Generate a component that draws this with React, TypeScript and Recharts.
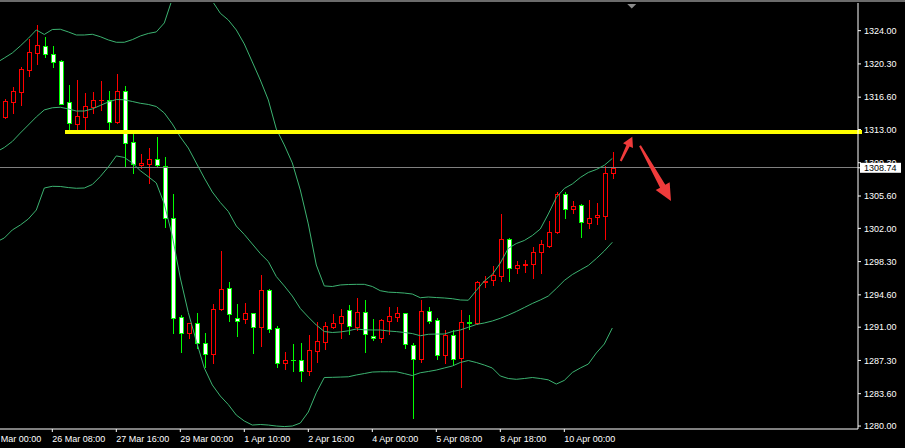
import React from 'react';
import { ComposedChart, Bar, Line, XAxis, YAxis, ReferenceLine, ReferenceDot } from 'recharts';

// H4 candles, oldest first
const opens = [
  1314.4, 1316.1, 1317.2, 1319.66, 1321.55, 1322.26, 1321.37, 1320.63, 1316.03, 1313.65,
  1314.43, 1315.47, 1316.25, 1316.29, 1313.84, 1317.29, 1311.58, 1309.05, 1309.2, 1309.69,
  1308.98, 1303.12, 1292.1, 1290.32, 1291.43, 1289.2, 1287.98, 1292.99, 1295.33, 1291.99,
  1291.88, 1292.54, 1291.05, 1295.14, 1290.88, 1287.05, 1287.4, 1287.35, 1286.16, 1288.35,
  1289.38, 1291.05, 1291.43, 1292.91, 1291.05, 1292.65, 1290.05, 1289.83, 1291.72, 1292.17,
  1292.54, 1288.98, 1287.42, 1292.77, 1291.76, 1287.91, 1290.09, 1287.53, 1291.6, 1291.43,
  1296.0, 1296.25, 1296.73, 1300.78, 1297.55, 1297.95, 1298.0, 1299.33, 1300.07, 1301.56,
  1305.79, 1304.15, 1304.57, 1302.57, 1303.23, 1303.41, 1308.13,
];
const highs = [
  1316.4, 1317.7, 1319.96, 1323.08, 1324.64, 1323.3, 1322.26, 1320.74, 1317.96, 1318.51,
  1317.03, 1317.14, 1318.44, 1317.29, 1319.18, 1317.85, 1312.47, 1310.28, 1310.95, 1312.17,
  1309.97, 1305.82, 1292.35, 1291.5, 1292.54, 1290.32, 1293.58, 1299.48, 1296.06, 1293.58,
  1293.72, 1292.6, 1296.81, 1295.2, 1291.13, 1288.27, 1289.13, 1289.27, 1290.13, 1291.54,
  1291.61, 1292.47, 1293.02, 1293.47, 1294.28, 1294.03, 1291.91, 1291.91, 1293.25, 1293.25,
  1292.6, 1289.27, 1294.03, 1293.28, 1291.99, 1290.65, 1290.65, 1292.91, 1292.35, 1296.17,
  1296.7, 1297.81, 1303.6, 1300.9, 1298.37, 1298.48, 1299.92, 1300.7, 1302.82, 1306.01,
  1306.05, 1305.04, 1304.71, 1305.16, 1304.79, 1308.94, 1310.5,
];
const lows = [
  1314.28, 1314.87, 1315.73, 1318.99, 1320.33, 1321.07, 1319.96, 1315.85, 1312.95, 1312.95,
  1313.06, 1314.87, 1315.18, 1312.95, 1313.73, 1308.87, 1308.19, 1308.68, 1307.08, 1308.98,
  1302.19, 1290.32, 1288.27, 1289.76, 1288.65, 1286.6, 1287.05, 1292.95, 1291.72, 1290.05,
  1291.43, 1288.1, 1288.94, 1290.5, 1286.6, 1286.34, 1286.16, 1285.04, 1285.68, 1287.16,
  1288.54, 1290.87, 1289.83, 1290.21, 1290.69, 1288.27, 1289.57, 1289.38, 1290.21, 1291.72,
  1288.65, 1280.86, 1287.16, 1291.5, 1287.46, 1286.98, 1286.79, 1284.38, 1290.76, 1291.4,
  1295.44, 1295.66, 1296.14, 1296.14, 1297.0, 1297.18, 1296.51, 1297.0, 1299.96, 1301.5,
  1303.19, 1303.74, 1301.07, 1302.0, 1302.49, 1300.78, 1307.64,
];
const closes = [
  1316.18, 1317.29, 1319.74, 1321.6, 1322.38, 1321.37, 1320.55, 1315.88, 1313.76, 1314.51,
  1315.59, 1316.29, 1316.32, 1313.87, 1317.29, 1311.47, 1309.13, 1309.24, 1309.69, 1309.02,
  1303.12, 1291.99, 1290.32, 1291.43, 1289.2, 1287.98, 1292.99, 1295.22, 1292.43, 1291.72,
  1292.54, 1291.05, 1295.14, 1290.76, 1287.05, 1287.35, 1287.3, 1286.16, 1288.46, 1289.46,
  1291.13, 1291.46, 1292.28, 1291.13, 1292.65, 1290.21, 1289.83, 1291.8, 1292.25, 1292.54,
  1289.1, 1287.42, 1292.77, 1291.72, 1287.91, 1290.09, 1287.42, 1291.54, 1291.5, 1296.06,
  1296.1, 1296.81, 1300.78, 1297.55, 1297.88, 1298.05, 1299.33, 1300.22, 1301.56, 1305.79,
  1304.15, 1304.49, 1302.67, 1303.12, 1303.48, 1308.13, 1308.74,
];

// Bollinger bands; first value is the bar just left of the window
const upperBand = [
  1320.41,
  1320.96, 1321.52, 1322.3, 1323.15, 1324.08, 1323.58, 1324.13, 1324.16, 1323.86, 1323.52,
  1323.52, 1323.6, 1323.33, 1322.97, 1322.71, 1322.71, 1323.0, 1323.41, 1323.69, 1323.86,
  1324.86, 1327.55, 1328.6, 1329.0, 1328.9, 1328.3, 1327.3, 1325.94, 1325.19, 1324.08,
  1322.52, 1320.52, 1318.51, 1316.29, 1313.06, 1311.28, 1309.28, 1306.27, 1302.49, 1297.92,
  1295.59, 1295.53, 1295.7, 1295.75, 1295.77, 1295.77, 1295.53, 1295.06, 1294.9, 1294.86,
  1294.8, 1294.69, 1294.28, 1294.36, 1294.3, 1294.25, 1294.17, 1294.03, 1294.0, 1295.08,
  1296.14, 1296.86, 1298.14, 1299.78, 1300.31, 1300.65, 1301.2, 1301.93, 1303.6, 1305.44,
  1306.44, 1306.94, 1307.66, 1308.22, 1308.55, 1309.02, 1309.78,
];
const middleBand = [
  1310.5,
  1311.0, 1311.67, 1312.61, 1313.5, 1314.4, 1315.18, 1315.42, 1315.48, 1315.29, 1315.06,
  1315.06, 1315.29, 1315.68, 1316.06, 1316.34, 1316.31, 1316.12, 1315.92, 1315.79, 1315.56,
  1314.84, 1313.62, 1312.17, 1310.94, 1309.27, 1307.6, 1306.05, 1304.88, 1303.88, 1302.26,
  1301.32, 1300.26, 1299.2, 1298.31, 1296.64, 1295.59, 1294.47, 1293.08, 1292.13, 1291.24,
  1290.52, 1290.41, 1290.47, 1290.6, 1290.8, 1290.71, 1290.69, 1290.69, 1290.58, 1290.51,
  1290.41, 1290.29, 1290.05, 1290.21, 1290.24, 1290.24, 1290.52, 1290.69, 1290.99, 1291.3,
  1291.47, 1291.69, 1291.99, 1292.35, 1292.75, 1293.19, 1293.64, 1294.03, 1294.47, 1295.31,
  1296.2, 1296.86, 1297.37, 1297.87, 1298.64, 1299.48, 1300.45,
];
const lowerBand = [
  1300.48,
  1300.93, 1301.82, 1302.37, 1303.04, 1304.04, 1306.49, 1306.68, 1306.66, 1306.54, 1306.46,
  1306.49, 1306.88, 1307.77, 1308.83, 1310.06, 1309.89, 1309.28, 1308.42, 1307.75, 1307.05,
  1304.71, 1301.15, 1296.47, 1292.63, 1289.46, 1286.46, 1284.57, 1283.34, 1282.39, 1281.22,
  1280.56, 1280.11, 1280.17, 1280.11, 1280.0, 1279.94, 1280.0, 1280.33, 1281.56, 1283.7,
  1285.4, 1285.42, 1285.45, 1285.48, 1285.68, 1285.84, 1286.01, 1286.04, 1286.04, 1286.04,
  1285.84, 1285.62, 1285.93, 1286.07, 1286.23, 1286.46, 1286.68, 1287.07, 1287.29, 1287.07,
  1286.79, 1286.46, 1285.57, 1285.29, 1285.2, 1285.29, 1285.4, 1285.29, 1285.14, 1284.67,
  1285.08, 1285.96, 1286.46, 1286.9, 1288.13, 1289.13, 1290.91,
];

const timeTickBars = [-2, 6, 14, 22, 30, 38, 46, 54, 62, 70];
const timeTickLabels = [
  '25 Mar 00:00', '26 Mar 08:00', '27 Mar 16:00', '29 Mar 00:00', '1 Apr 10:00',
  '2 Apr 16:00', '4 Apr 00:00', '5 Apr 08:00', '8 Apr 18:00', '10 Apr 00:00',
];
const priceTicks = [1324, 1320.3, 1316.6, 1313, 1309.3, 1305.6, 1302, 1298.3, 1294.6, 1291, 1287.3, 1283.6, 1280];
const bidPrice = 1308.74;
const resistance = 1312.75;
const resistanceFromBar = 7.6;

const X_DOMAIN: [number, number] = [-0.5375, 106.71];
const Y_DOMAIN: [number, number] = [1279.67, 1327.08];
const FONT = 'Liberation Sans, Arial, sans-serif';

const rows = upperBand.map((u, k) => {
  const i = k - 1;
  return {
    i,
    open: i >= 0 ? opens[i] : null,
    high: i >= 0 ? highs[i] : null,
    low: i >= 0 ? lows[i] : null,
    close: i >= 0 ? closes[i] : null,
    upper: u,
    middle: middleBand[k],
    lower: lowerBand[k],
  };
});

const Candle = (props: any) => {
  const { x, y, width, height, payload } = props;
  if (!payload || payload.open == null || !isFinite(y) || !isFinite(height)) return null;
  const { open, close, high, low } = payload;
  const top = Math.min(y, y + height);
  const k = Math.abs(height) / (high - low);
  const py = (v: number) => top + (high - v) * k;
  const cx = Math.round(x + width / 2);
  const bull = close >= open;
  const col = bull ? '#ff0000' : '#00ff00';
  const bTop = Math.round(py(Math.max(open, close)));
  const bBot = Math.round(py(Math.min(open, close)));
  return (
    <g shapeRendering="crispEdges">
      <line x1={cx + 0.5} x2={cx + 0.5} y1={Math.round(py(high))} y2={Math.round(py(low)) + 1} stroke={col} />
      {bBot - bTop < 1 ? (
        <line x1={cx - 2} x2={cx + 3} y1={bTop + 0.5} y2={bTop + 0.5} stroke={col} />
      ) : (
        <rect x={cx - 1.5} y={bTop + 0.5} width={4} height={bBot - bTop} fill={bull ? '#000' : '#fff'} stroke={col} />
      )}
    </g>
  );
};

const TimeTick = (props: any) => {
  const { x, y, payload } = props;
  const label = timeTickLabels[timeTickBars.indexOf(payload.value)];
  return (
    <text x={x} y={y + 8} fill="#fff" fontSize={9} fontFamily={FONT} textAnchor="start">
      {label}
    </text>
  );
};

const PriceTick = (props: any) => {
  const { x, y, payload } = props;
  if (payload.value === bidPrice) {
    return (
      <g>
        <rect x={x - 3} y={y - 5} width={41} height={10} fill="#fff" />
        <text x={x + 1} y={y + 3.3} fill="#000" fontSize={9} fontFamily={FONT}>
          {bidPrice.toFixed(2)}
        </text>
      </g>
    );
  }
  return (
    <text x={x + 1} y={y + 3.3} fill="#fff" fontSize={9} fontFamily={FONT}>
      {payload.value.toFixed(2)}
    </text>
  );
};

const arrow = (dx: number, dy: number, w0: number, w1: number, headLen: number, headHalf: number) => (p: any) => {
  const { cx, cy } = p;
  const len = Math.hypot(dx, dy);
  const ux = dx / len, uy = dy / len;
  const nx = -uy, ny = ux;
  const n = len - headLen;
  const pts = [
    [-nx * w0 / 2, -ny * w0 / 2],
    [ux * n - nx * w1 / 2, uy * n - ny * w1 / 2],
    [ux * n - nx * headHalf, uy * n - ny * headHalf],
    [dx, dy],
    [ux * n + nx * headHalf, uy * n + ny * headHalf],
    [ux * n + nx * w1 / 2, uy * n + ny * w1 / 2],
    [nx * w0 / 2, ny * w0 / 2],
  ];
  return <polygon points={pts.map(([a, b]) => `${cx + a},${cy + b}`).join(' ')} fill="#ef3b3b" />;
};

const shiftMarker = (p: any) => {
  const { cx, cy } = p;
  return <polygon points={`${cx - 4.5},${cy + 1} ${cx + 4.5},${cy + 1} ${cx},${cy + 5.5}`} fill="#8a8a8a" />;
};

export default function App() {
  return (
    <div style={{ position: 'absolute', left: 0, top: 0, width: 905, height: 448, background: '#000', overflow: 'hidden' }}>
      <div style={{ borderTop: '2px solid #6b6b6b', width: 905, height: 446 }}>
        <ComposedChart width={905} height={446} data={rows} margin={{ top: 1, right: 0, bottom: 0, left: 0 }}>
          <XAxis
            dataKey="i"
            type="number"
            domain={X_DOMAIN}
            allowDataOverflow
            ticks={timeTickBars}
            interval={0}
            height={19}
            tickSize={3}
            axisLine={{ stroke: '#fff' }}
            tickLine={{ stroke: '#fff' }}
            tick={<TimeTick />}
          />
          <XAxis xAxisId="top" orientation="top" type="number" domain={X_DOMAIN} height={0} tick={false} tickLine={false} axisLine={{ stroke: '#fff' }} />
          <YAxis
            orientation="right"
            type="number"
            domain={Y_DOMAIN}
            allowDataOverflow
            ticks={[...priceTicks, bidPrice]}
            interval={0}
            width={47}
            tickSize={3}
            axisLine={{ stroke: '#fff' }}
            tickLine={{ stroke: '#fff' }}
            tick={<PriceTick />}
          />
          <ReferenceLine y={bidPrice} stroke="#808080" shapeRendering="crispEdges" />
          <Bar
            dataKey={(d: any) => (d.open == null ? null : [d.low, d.high])}
            barSize={5}
            shape={<Candle />}
            isAnimationActive={false}
          />
          <Line dataKey="upper" stroke="#3cb371" strokeWidth={1} dot={false} activeDot={false} isAnimationActive={false} />
          <Line dataKey="middle" stroke="#3cb371" strokeWidth={1} dot={false} activeDot={false} isAnimationActive={false} />
          <Line dataKey="lower" stroke="#3cb371" strokeWidth={1} dot={false} activeDot={false} isAnimationActive={false} />
          <ReferenceLine
            segment={[{ x: resistanceFromBar, y: resistance }, { x: 107.18, y: resistance }]}
            stroke="#ffff00"
            strokeWidth={4}
            ifOverflow="visible"
            shapeRendering="crispEdges"
          />
          <ReferenceDot x={77.05} y={1309.5} r={1} ifOverflow="visible" shape={arrow(11.6, -24.3, 2, 3.5, 10, 5.5)} />
          <ReferenceDot x={79.46} y={1311.2} r={1} ifOverflow="visible" shape={arrow(31, 55.3, 2, 6, 17, 8)} />
          <ReferenceDot x={78.43} y={Y_DOMAIN[1]} r={1} ifOverflow="visible" shape={shiftMarker} />
        </ComposedChart>
      </div>
    </div>
  );
}
